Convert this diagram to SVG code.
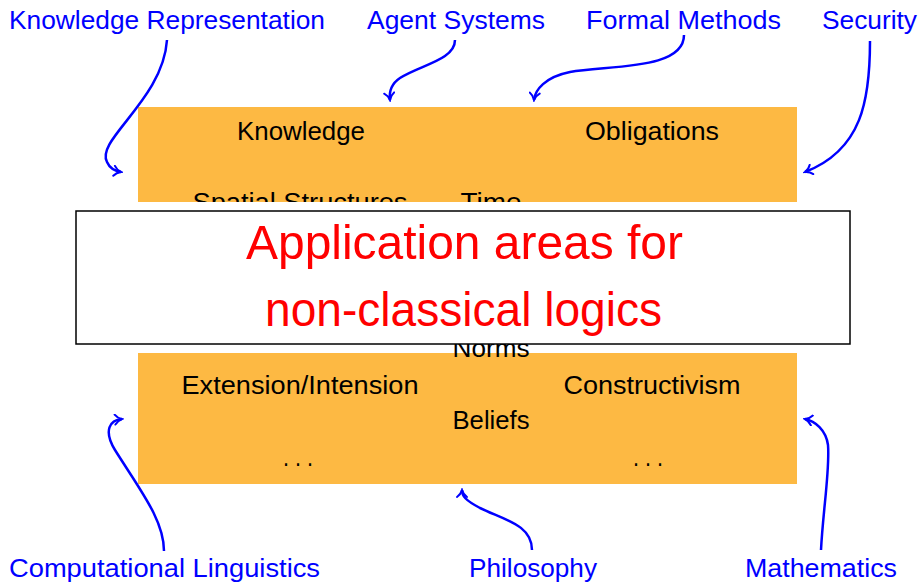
<svg xmlns="http://www.w3.org/2000/svg" width="920" height="583" viewBox="0 0 920 583">
<style>
text{font-family:"Liberation Sans",Arial,sans-serif;}
.lbl{fill:#0000ff;font-size:26px;text-anchor:middle;}
.itm{fill:#000;font-size:26px;text-anchor:middle;}
.ttl{fill:#ff0000;font-size:49px;text-anchor:middle;}
.pan{fill:#fdb943;}
.con{fill:none;stroke:#0000ff;stroke-width:2.5;marker-end:url(#arr);}
</style>
<defs>
<marker id="arr" viewBox="-9 -6 11 12" refX="0" refY="0" markerWidth="11" markerHeight="12" markerUnits="userSpaceOnUse" orient="auto">
<path d="M-7,-5 C-5,-2 -2,-0.6 0,0 C-2,0.6 -5,2 -7,5" fill="none" stroke="#0000ff" stroke-width="2" stroke-linecap="round"/>
</marker>
</defs>
<g id="panel-top">
<rect class="pan" x="138" y="107" width="659" height="95"/>
<text class="itm" x="301" y="140" textLength="128" lengthAdjust="spacingAndGlyphs">Knowledge</text>
<text class="itm" x="652" y="140" textLength="134" lengthAdjust="spacingAndGlyphs">Obligations</text>
<text class="itm" x="300" y="211" textLength="215" lengthAdjust="spacingAndGlyphs">Spatial Structures</text>
<text class="itm" x="491" y="211" textLength="61" lengthAdjust="spacingAndGlyphs">Time</text>
</g>
<g id="panel-bottom">
<rect class="pan" x="138" y="353" width="659" height="131"/>
<text class="itm" x="491" y="357" textLength="77" lengthAdjust="spacingAndGlyphs">Norms</text>
<text class="itm" x="300" y="394" textLength="237" lengthAdjust="spacingAndGlyphs">Extension/Intension</text>
<text class="itm" x="652" y="394" textLength="177" lengthAdjust="spacingAndGlyphs">Constructivism</text>
<text class="itm" x="491" y="429" textLength="77" lengthAdjust="spacingAndGlyphs">Beliefs</text>
<text class="itm" x="298" y="466" textLength="30" lengthAdjust="spacingAndGlyphs">. . .</text>
<text class="itm" x="648" y="466" textLength="30" lengthAdjust="spacingAndGlyphs">. . .</text>
</g>
<g id="title">
<rect x="76" y="202" width="774" height="142" fill="#fff"/>
<rect x="76" y="211" width="774" height="133" fill="#fff" stroke="#000" stroke-width="1.5"/>
<text class="ttl" x="464.5" y="259" textLength="437" lengthAdjust="spacingAndGlyphs">Application areas for</text>
<text class="ttl" x="463.5" y="326" textLength="397" lengthAdjust="spacingAndGlyphs">non-classical logics</text>
</g>
<g id="label-kr"><text class="lbl" x="167" y="29" textLength="316" lengthAdjust="spacingAndGlyphs">Knowledge Representation</text></g>
<g id="label-as"><text class="lbl" x="456" y="29" textLength="178" lengthAdjust="spacingAndGlyphs">Agent Systems</text></g>
<g id="label-fm"><text class="lbl" x="683.5" y="29" textLength="195" lengthAdjust="spacingAndGlyphs">Formal Methods</text></g>
<g id="label-sec"><text class="lbl" x="869.5" y="29" textLength="95" lengthAdjust="spacingAndGlyphs">Security</text></g>
<g id="label-cl"><text class="lbl" x="164.5" y="577" textLength="311" lengthAdjust="spacingAndGlyphs">Computational Linguistics</text></g>
<g id="label-phil"><text class="lbl" x="533" y="577" textLength="128" lengthAdjust="spacingAndGlyphs">Philosophy</text></g>
<g id="label-math"><text class="lbl" x="821" y="577" textLength="152" lengthAdjust="spacingAndGlyphs">Mathematics</text></g>
<g id="connectors">
<path class="con" d="M167,40 C163,100 95,140 107,162 C110,169 115,171 121,172"/>
<path class="con" d="M455,40 C455,60 420,65 400,78 C391,84 389,92 390,100"/>
<path class="con" d="M684,35 C684,70 610,65 570,72 C545,77 535,90 534,100"/>
<path class="con" d="M870,41 C870,100 862,150 805,172"/>
<path class="con" d="M164,551 C164,520 140,490 115,450 C103,430 110,420 122,419"/>
<path class="con" d="M532,550 C532,525 505,520 480,508 C465,500 462,496 462,490"/>
<path class="con" d="M821,550 C823,510 830,470 828,445 C826,430 815,421 805,419"/>
</g>
</svg>
